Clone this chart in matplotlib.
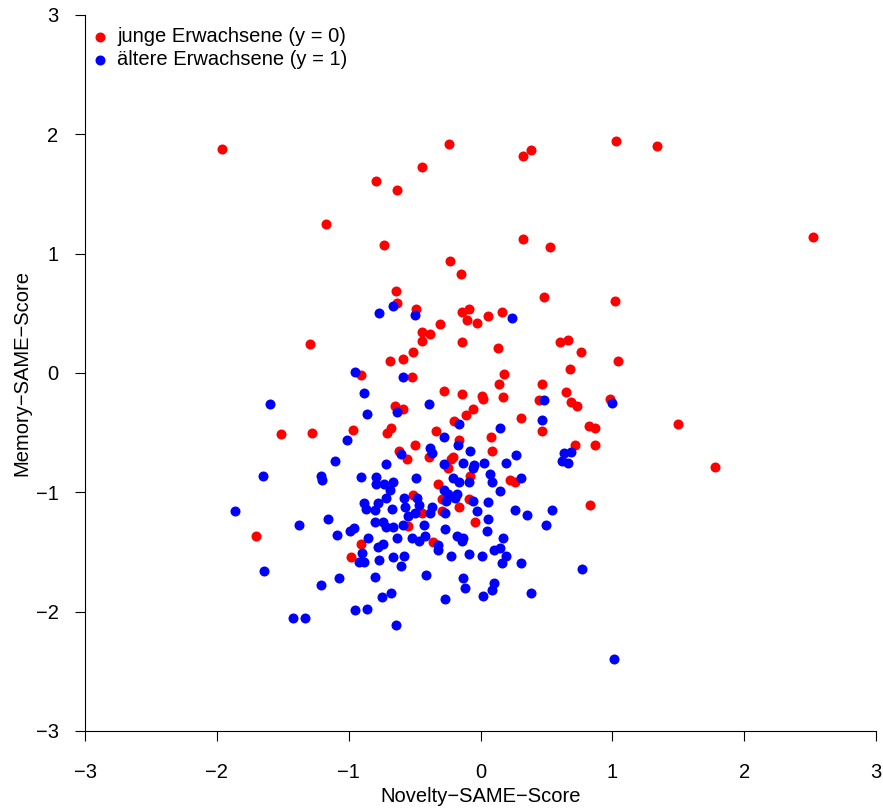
import matplotlib
matplotlib.use("Agg")
import matplotlib.pyplot as plt

# junge Erwachsene (y = 0)
red_x = [-1.96, -0.79, -0.63, -0.44, -0.24, 0.32, 0.38, 1.03, 1.34, -1.17,
         -0.73, 0.32, 0.53, -0.23, -0.15, 2.52, -0.64, -0.63, 0.48, 1.02,
         -1.29, 1.04, -0.91, -1.51, -1.28, -0.97, -0.49, -0.14, -0.09, -0.10,
         -0.03, 0.06, 0.16, -0.31, -0.44, -0.38, -0.44, -0.14, 0.13, -0.51,
         -0.59, -0.69, -0.52, 0.18, 0.14, -0.28, -0.14, 0.01, 0.02, 0.17,
         -0.65, -0.59, -0.06, -0.11, 0.31, -0.20, -0.68, -0.71, -0.34, -0.16,
         0.08, 0.60, 0.66, 0.76, 0.68, 0.47, 0.65, 0.44, 0.69, 0.73,
         0.98, 0.47, 0.82, 0.87, 0.72, 0.87, 1.50, 1.78, 0.83, -0.50,
         -0.62, -0.56, -0.39, -0.21, -0.22, -0.25, 0.09, -0.08, 0.22, 0.26,
         -0.32, -0.51, -0.09, -0.29, -0.16, -0.29, -0.44, -0.04, -0.55, -0.36,
         -0.91, -0.98, -1.70]
red_y = [1.88, 1.61, 1.53, 1.73, 1.92, 1.82, 1.87, 1.94, 1.90, 1.25,
         1.07, 1.12, 1.06, 0.94, 0.83, 1.14, 0.69, 0.59, 0.64, 0.60,
         0.24, 0.10, -0.02, -0.51, -0.50, -0.48, 0.54, 0.51, 0.54, 0.44,
         0.42, 0.48, 0.51, 0.41, 0.34, 0.33, 0.27, 0.26, 0.21, 0.18,
         0.12, 0.10, -0.03, -0.01, -0.09, -0.15, -0.18, -0.19, -0.22, -0.20,
         -0.28, -0.30, -0.30, -0.35, -0.38, -0.40, -0.46, -0.50, -0.49, -0.56,
         -0.54, 0.26, 0.28, 0.18, 0.03, -0.09, -0.16, -0.23, -0.24, -0.28,
         -0.22, -0.49, -0.44, -0.46, -0.60, -0.60, -0.43, -0.79, -1.11, -0.60,
         -0.65, -0.72, -0.70, -0.70, -0.72, -0.80, -0.65, -0.86, -0.90, -0.91,
         -0.93, -1.02, -1.06, -1.06, -1.12, -1.16, -1.17, -1.25, -1.28, -1.42,
         -1.43, -1.54, -1.37]

# ältere Erwachsene (y = 1)
blue_x = [-0.95, -0.77, -0.66, -0.50, 0.24, -0.88, -1.60, -0.86, -1.01, -1.10,
          -0.59, -0.39, -0.63, -0.16, 0.15, -0.28, 0.48, 1.00, 0.47, 0.63,
          0.69, 0.62, 0.66, 0.31, 0.54, 0.50, 0.77, 0.38, 1.01, -0.17,
          -0.08, -0.28, -0.13, -0.05, -0.06, 0.03, 0.27, 0.19, 0.07, -0.21,
          -0.16, -0.09, 0.09, 0.15, -0.28, -0.25, -0.18, -0.19, -0.26, -0.06,
          0.06, 0.26, 0.35, -0.03, -0.27, 0.06, 0.05, -0.27, -0.18, -0.13,
          0.17, -0.38, -0.37, -0.60, -0.72, -0.91, -0.79, -0.79, -0.73, -0.66,
          -0.49, -0.69, -0.72, -0.58, -0.48, -0.88, -0.78, -0.80, -0.67, -0.57,
          -0.47, -0.37, -0.38, -0.50, -0.55, -0.87, -0.80, -0.74, -0.72, -0.66,
          -0.59, -0.43, -0.85, -0.63, -0.52, -0.42, -0.47, -0.78, -0.74, -0.32,
          -0.32, -0.22, -0.90, -0.88, -0.77, -0.66, -0.58, -0.60, -0.41, -0.80,
          -0.75, -0.68, -0.27, -0.86, -0.64, -0.14, 0.10, 0.15, -0.09, 0.01,
          0.19, 0.16, 0.31, -0.13, -0.12, 0.10, 0.09, 0.02, -1.65, -1.21,
          -1.20, -1.86, -1.38, -1.16, -1.09, -0.99, -0.96, -0.92, -1.64, -1.07,
          -1.21, -0.95, -1.42, -1.33]
blue_y = [0.01, 0.50, 0.56, 0.49, 0.46, -0.17, -0.26, -0.34, -0.56, -0.74,
          -0.03, -0.26, -0.33, -0.43, -0.46, -0.54, -0.23, -0.25, -0.39, -0.67,
          -0.66, -0.74, -0.75, -0.88, -1.15, -1.27, -1.64, -1.84, -2.40, -0.60,
          -0.65, -0.76, -0.75, -0.77, -0.80, -0.75, -0.69, -0.75, -0.85, -0.88,
          -0.91, -0.91, -0.91, -0.99, -0.98, -1.01, -1.01, -1.05, -1.07, -1.07,
          -1.08, -1.15, -1.19, -1.16, -1.17, -1.22, -1.32, -1.31, -1.37, -1.38,
          -1.38, -0.63, -0.67, -0.68, -0.76, -0.87, -0.87, -0.93, -0.93, -0.91,
          -0.88, -0.98, -1.05, -1.05, -1.05, -1.09, -1.09, -1.15, -1.14, -1.12,
          -1.11, -1.12, -1.17, -1.17, -1.20, -1.14, -1.25, -1.25, -1.29, -1.29,
          -1.27, -1.27, -1.38, -1.38, -1.38, -1.37, -1.41, -1.46, -1.43, -1.44,
          -1.48, -1.53, -1.51, -1.58, -1.57, -1.54, -1.53, -1.62, -1.69, -1.71,
          -1.88, -1.84, -1.89, -1.98, -2.11, -1.41, -1.48, -1.47, -1.52, -1.53,
          -1.53, -1.59, -1.59, -1.72, -1.80, -1.76, -1.82, -1.87, -0.86, -0.86,
          -0.90, -1.16, -1.27, -1.22, -1.36, -1.32, -1.30, -1.58, -1.66, -1.72,
          -1.78, -1.99, -2.05, -2.05]

labels = ["junge Erwachsene (y = 0)", "ältere Erwachsene (y = 1)"]
ticks = [-3, -2, -1, 0, 1, 2, 3]

plt.rcParams["font.family"] = ["Liberation Sans", "DejaVu Sans"]
plt.rcParams["axes.unicode_minus"] = True

fig = plt.figure(figsize=(8.83, 8.10), dpi=100)
ax = fig.add_axes([85 / 883, 79 / 810, 791 / 883, 716 / 810])

ax.scatter(red_x, red_y, s=52, color="#ff0000", linewidths=0, label=labels[0])
ax.scatter(blue_x, blue_y, s=52, color="#0000ff", linewidths=0, label=labels[1])

ax.set_xlim(-3, 3)
ax.set_ylim(-3, 3)
ax.set_xticks(ticks)
ax.set_yticks(ticks)
ax.spines["top"].set_visible(False)
ax.spines["right"].set_visible(False)
ax.tick_params(direction="out", length=7, width=0.8, labelsize=14.5)
ax.tick_params(axis="x", pad=16)
ax.tick_params(axis="y", pad=12)

ax.set_xlabel("Novelty\u2212SAME\u2212Score", fontsize=14.5, labelpad=4)
ax.set_ylabel("Memory\u2212SAME\u2212Score", fontsize=14.5, labelpad=3)

ax.legend(loc="upper left", bbox_to_anchor=(0.009, 0.983), frameon=False,
          fontsize=14.5, handlelength=0.8, handletextpad=0.45,
          borderaxespad=0, borderpad=0, labelspacing=0.2)

fig.savefig("out.png", dpi=100)
